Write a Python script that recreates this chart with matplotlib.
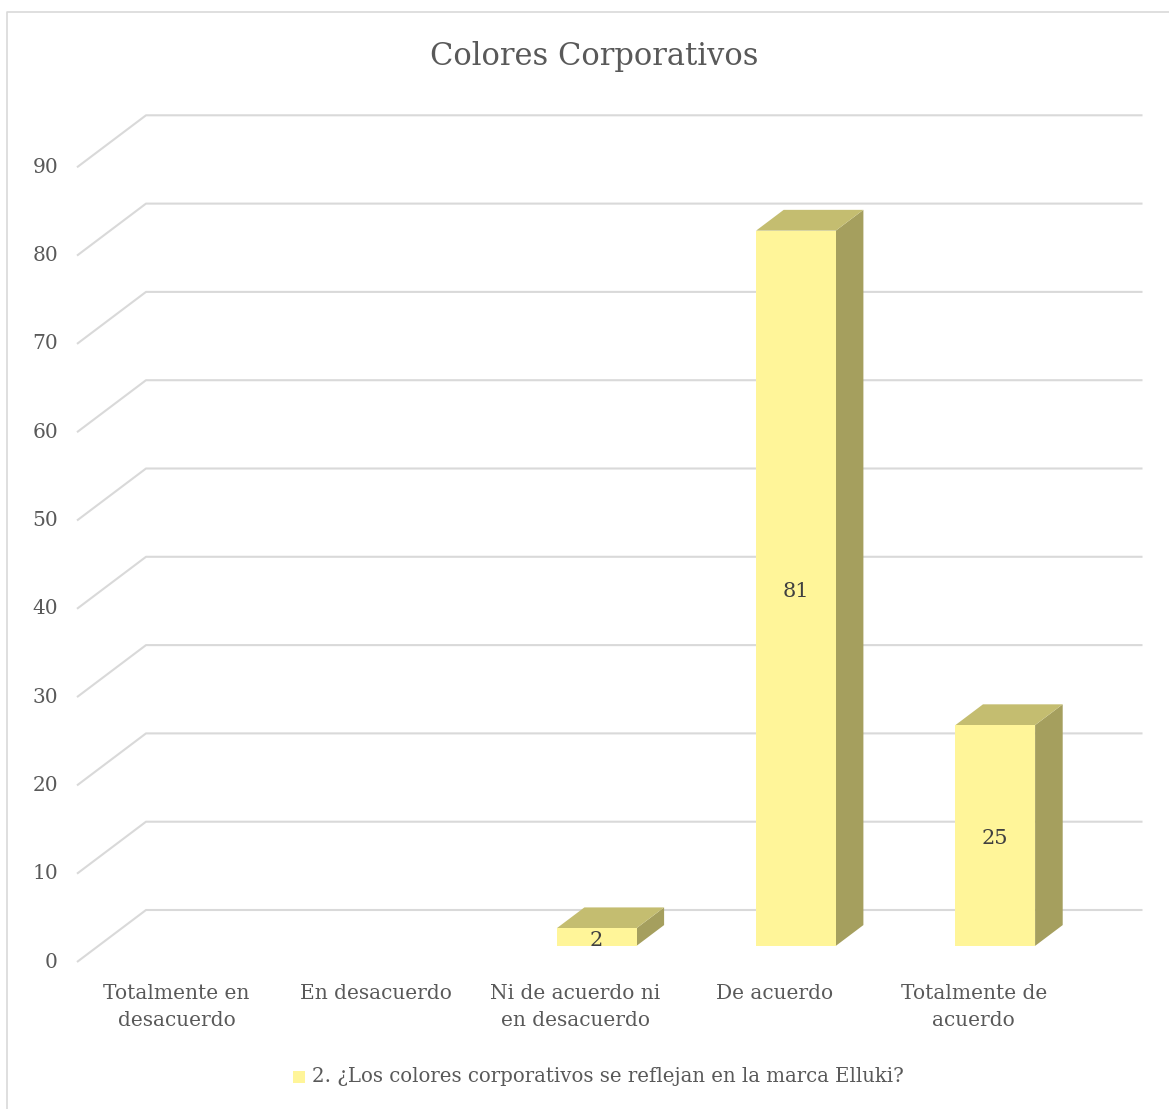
import matplotlib
matplotlib.use("Agg")
import matplotlib.pyplot as plt
from matplotlib.patches import Polygon
from matplotlib.lines import Line2D

categories = ["Totalmente en\ndesacuerdo", "En desacuerdo",
              "Ni de acuerdo ni\nen desacuerdo", "De acuerdo",
              "Totalmente de\nacuerdo"]
values = [0, 0, 2, 81, 25]
yticks = list(range(0, 100, 10))
title = "Colores Corporativos"
series_name = "2. ¿Los colores corporativos se reflejan en la marca Elluki?"

plt.rcParams['font.family'] = ['DejaVu Serif']
TEXT = "#595959"
GRID = "#D9D9D9"
FRONT = "#FFF599"
TOP = "#C4BD70"
SIDE = "#A59F5E"

W, H = 1169, 1109
fig = plt.figure(figsize=(W / 100, H / 100), dpi=100)
ax = fig.add_axes([0, 0, 1, 1])

# oblique projection: x in category units, y in value units on the front plane
x0px, y0px = 77, 962
cat_px, unit_px = 199.3, 8.83
ax.set_xlim(-x0px / cat_px, (W - x0px) / cat_px)
ax.set_ylim(-(H - y0px) / unit_px, y0px / unit_px)
ax.axis('off')

DX = 69 / cat_px   # depth offset of the back wall
DY = 52 / unit_px
n = len(categories)

# floor/wall gridlines
for v in yticks:
    ax.plot([0, DX, n + DX], [v, v + DY, v + DY], color=GRID, lw=1.5,
            solid_capstyle='butt', zorder=1)
    ax.text(-19 / cat_px, v, str(v), ha='right', va='center', fontsize=14.5,
            color=TEXT)

# bars placed mid-depth
d0, d1 = 0.31, 0.71
bw = 0.4
for i, val in enumerate(values):
    if val <= 0:
        continue
    xl = i + 0.5 - bw / 2 + d0 * DX
    xr = xl + bw
    yb = d0 * DY
    yt = val + yb
    ddx, ddy = (d1 - d0) * DX, (d1 - d0) * DY
    ax.add_patch(Polygon([(xr, yb), (xr + ddx, yb + ddy), (xr + ddx, yt + ddy),
                          (xr, yt)], closed=True, fc=SIDE, ec='none', zorder=3))
    ax.add_patch(Polygon([(xl, yt), (xr, yt), (xr + ddx, yt + ddy),
                          (xl + ddx, yt + ddy)], closed=True, fc=TOP, ec='none',
                         zorder=3))
    ax.add_patch(Polygon([(xl, yb), (xr, yb), (xr, yt), (xl, yt)], closed=True,
                         fc=FRONT, ec='none', zorder=4))
    ax.text((xl + xr) / 2, (yb + yt) / 2 - 3 / unit_px, str(val), ha='center',
            va='center', fontsize=15, color='#404040', zorder=5)

# category labels
for i, lab in enumerate(categories):
    ax.text(i + 0.5, -22 / unit_px, lab, ha='center', va='top', fontsize=14.5,
            color=TEXT, linespacing=1.5)

fig.text(594 / W, 1 - 56 / H, title, ha='center', va='center', fontsize=22,
         color=TEXT)

# legend
lx, ly = 293, 1077
fig.patches.append(plt.Rectangle((lx / W, 1 - (ly + 6) / H), 12 / W, 12 / H,
                                 transform=fig.transFigure, fc=FRONT, ec='none'))
fig.text((lx + 19) / W, 1 - ly / H, series_name, ha='left', va='center',
         fontsize=14.2, color=TEXT)

# chart area border
fig.add_artist(Line2D([7 / W, 7 / W, 1], [0, 1 - 12 / H, 1 - 12 / H],
                      transform=fig.transFigure, color=GRID, lw=1.2))

fig.savefig("out.png", dpi=100)
